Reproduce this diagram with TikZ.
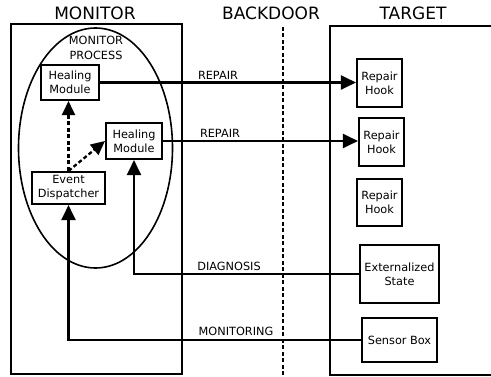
\documentclass[tikz,border=0pt]{standalone}
\usepackage{fontspec}
\setmainfont{DejaVu Sans}
\usetikzlibrary{arrows.meta}
\begin{document}
\begin{tikzpicture}[x=1pt,y=-1pt,
  txt/.style={font=\fontsize{11.3}{14}\selectfont, inner sep=0pt},
  title/.style={font=\fontsize{17}{20}\selectfont, inner sep=0pt},
  box/.style={draw, line width=2.1pt, inner sep=0pt, align=center,
              font=\fontsize{11.3}{14}\selectfont},
  link/.style={line width=2.1pt, -{Triangle[length=15pt,width=14pt]}},
  dlink/.style={line width=2.3pt, dash pattern=on 4pt off 2.5pt,
                -{Triangle[length=14pt,width=13pt]}},
  frame/.style={line width=2.1pt}]
\useasboundingbox (0,0) rectangle (491,377);

% column titles
\node[title] (tmon) at (95,13) {MONITOR};
\node[title] (tback) at (271,13) {BACKDOOR};
\node[title] (ttgt) at (413,13) {TARGET};

% monitor side
\draw[frame] (11,24) rectangle (182,374);
\draw[line width=1.6pt] (95.5,148) ellipse [x radius=77, y radius=120];
\node[txt, align=center, font=\fontsize{11.3}{15}\selectfont] (mp) at (96,48) {MONITOR\\PROCESS};

\node[box, minimum width=58pt, minimum height=35pt] (hm1) at (70,82.5) {Healing\\Module};
\node[box, minimum width=56pt, minimum height=36pt] (hm2) at (134,141) {Healing\\Module};
\node[box, minimum width=73pt, minimum height=32pt] (ed) at (68.5,188) {Event\\Dispatcher};

% backdoor separator
\coordinate (bdtop) at (283,27);
\coordinate (bdbot) at (283,377);
\draw[line width=2.1pt, dash pattern=on 4pt off 2.5pt] (bdtop) -- (bdbot);

% target side
\draw[frame] (493,26) -- (330,26) -- (330,375) -- (493,375);
\node[box, minimum width=45pt, minimum height=48pt] (rh1) at (379.5,83) {Repair\\Hook};
\node[box, minimum width=45pt, minimum height=48pt] (rh2) at (381.5,142) {Repair\\Hook};
\node[box, minimum width=45pt, minimum height=47pt] (rh3) at (379.5,202.5) {Repair\\Hook};
\node[box, minimum width=79pt, minimum height=58pt] (es) at (399.5,274) {Externalized\\State};
\node[box, minimum width=75pt, minimum height=44pt] (sb) at (399.5,340) {Sensor Box};

% dispatch inside the monitor process
\draw[dlink] (ed.north) -- (ed.north |- hm1.south);
\draw[dlink] (ed.north) -- (hm2.west);

% repair commands
\draw[link] (hm1.east) -- (hm1.east -| rh1.west);
\draw[link] (hm2.east) -- (hm2.east -| rh2.west);
\node[txt] (lrep1) at (218,75) {REPAIR};
\node[txt] (lrep2) at (220,133) {REPAIR};

% diagnosis and monitoring feeds
\draw[link] (es.west) -| (hm2.south);
\draw[link] (sb.west) -| (ed.south);
\node[txt] (ldiag) at (229,266) {DIAGNOSIS};
\node[txt] (lmon) at (236,331) {MONITORING};
\end{tikzpicture}
\end{document}
